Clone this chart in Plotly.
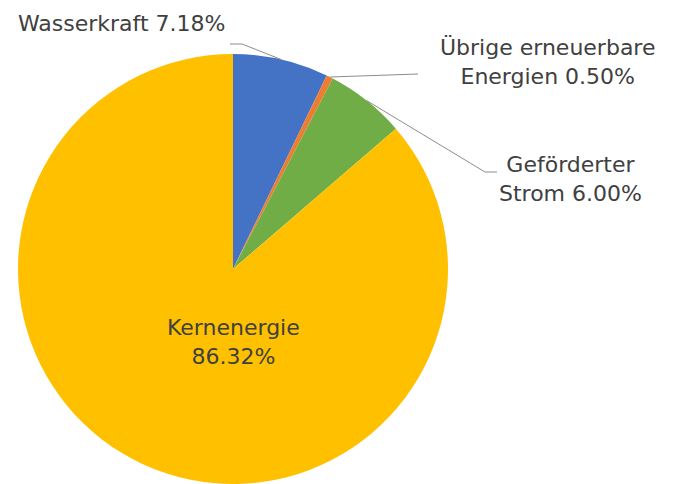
import math
import plotly.graph_objects as go

labels = ["Wasserkraft", "Übrige erneuerbare Energien", "Geförderter Strom", "Kernenergie"]
values = [7.18, 0.50, 6.00, 86.32]
colors = ["#4472C4", "#ED7D31", "#70AD47", "#FFC000"]
label_texts = ["Wasserkraft 7.18%", "Übrige erneuerbare<br>Energien 0.50%",
               "Geförderter<br>Strom 6.00%", "Kernenergie<br>86.32%"]

W, H = 678, 484
CX, CY, R = 233, 269, 215  # pie centre / radius in pixels


def px(x):
    return x / W


def py(y):
    return 1 - y / H


fig = go.Figure(go.Pie(
    labels=labels, values=values, sort=False, direction="clockwise", rotation=0,
    marker=dict(colors=colors, line=dict(width=0)),
    textinfo="none", hoverinfo="label+percent", showlegend=False,
    domain=dict(x=[px(CX - R), px(CX + R)], y=[py(CY + R), py(CY - R)]),
))

# mid-angles and edge points computed from the data
total = sum(values)
edges = []
cum = 0
for v in values:
    mid = (cum + v / 2) / total * 2 * math.pi
    edges.append((CX + R * math.sin(mid), CY - R * math.cos(mid)))
    cum += v

line_paths = [
    [(230, 44), (242, 44), edges[0]],
    [edges[1], (418, 74)],
    [edges[2], (485, 172), (497, 172)],
]
shapes = []
for pts in line_paths:
    d = "M " + " L ".join(f"{px(x)},{py(y)}" for x, y in pts)
    shapes.append(dict(type="path", path=d, xref="paper", yref="paper",
                       line=dict(color="#8C8C8C", width=1)))

font = dict(family="DejaVu Sans, sans-serif", size=22, color="#404040")
ann_pos = [(121, 23), (547, 62), (570, 179), (233, 342)]
annotations = []
for t, (x, y) in zip(label_texts, ann_pos):
    annotations.append(dict(text=t, x=px(x), y=py(y), xref="paper", yref="paper",
                            showarrow=False, font=font, align="center",
                            xanchor="center", yanchor="middle"))

fig.update_layout(
    width=W, height=H, margin=dict(l=0, r=0, t=0, b=0),
    paper_bgcolor="white", plot_bgcolor="white",
    shapes=shapes, annotations=annotations,
)
fig.write_html("out.html", config={"displayModeBar": False},
               post_script="document.body.style.margin='0';")
